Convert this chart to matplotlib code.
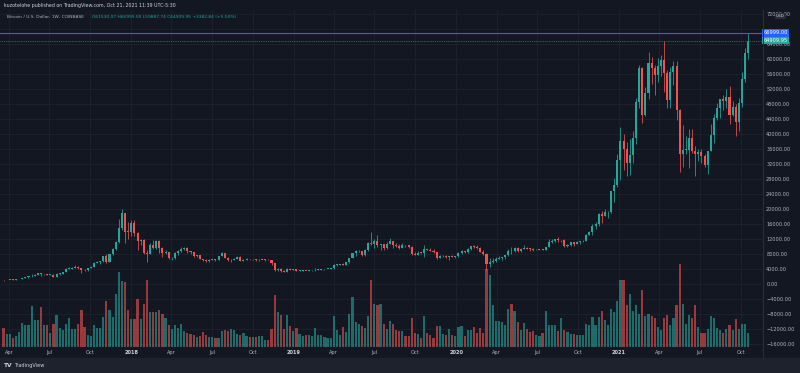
import numpy as np
import pandas as pd
import matplotlib
matplotlib.use('Agg')
import matplotlib.pyplot as plt
import matplotlib.dates as mdates
from matplotlib.lines import Line2D
from matplotlib.patches import Rectangle

# weekly BTC/USD candles (Coinbase), first week starts 2017-03-20
first_week = '2017-03-20'
first_open = 1020

close_2017 = [965, 1090, 1180, 1170, 1230, 1350, 1550, 1770, 2050, 2200, 2520, 2950, 2550, 2600, 2500, 2500, 1930,
              2750, 2750, 3250, 4100, 4100, 4350, 4600, 4250, 3700, 3650, 4380, 4600, 5700, 6000, 6150, 7400, 5950,
              8050, 9300, 11300, 15000, 19000, 13900, 13850]
high_2017 = [1120, 1100, 1200, 1220, 1270, 1360, 1600, 1850, 2100, 2770, 2600, 3000, 3000, 2770, 2600, 2650, 2550,
             2880, 2830, 3300, 4200, 4490, 4450, 4980, 4700, 4300, 4120, 4400, 4800, 5860, 6200, 6200, 7500, 7900,
             8100, 9600, 11400, 17300, 19900, 19000, 16500]
low_2017 = [930, 950, 1060, 1120, 1150, 1220, 1330, 1550, 1700, 1850, 2180, 2450, 2100, 2300, 2380, 2350, 1830,
            1930, 2500, 2650, 3200, 3950, 4000, 4300, 3950, 2970, 3500, 3600, 4200, 4600, 5600, 5300, 6000, 5500,
            5800, 7800, 9000, 11000, 14500, 11000, 12000]

close_2018 = [16200, 13600, 11600, 11800, 8200, 8100, 10400, 9600, 11500, 9500, 8200, 8450, 6850, 7000, 8350, 8900,
              9400, 9650, 8700, 8500, 7350, 7700, 6780, 6450, 6150, 6350, 6750, 6350, 7400, 8200, 7050, 6300, 6500,
              6700, 7300, 6250, 6500, 6700, 6600, 6600, 6300, 6400, 6450, 6450, 6350, 5600, 3800, 4100, 3600, 3250,
              3950, 3850]
high_2018 = [17200, 17100, 14000, 12000, 12000, 9000, 10900, 11800, 11700, 11700, 9900, 9200, 8500, 7100, 8450, 9000,
             9750, 9990, 9900, 8800, 8500, 7800, 7800, 6800, 6800, 6700, 6800, 6800, 7550, 8500, 8300, 7200, 6600,
             6950, 7400, 7400, 6600, 6900, 6800, 6700, 6650, 6600, 6500, 6550, 6550, 6400, 5700, 4300, 4150, 3650,
             4200, 4250]
low_2018 = [12800, 12900, 9000, 10300, 7900, 6000, 8000, 9300, 9400, 8400, 7300, 7900, 6600, 6500, 6800, 7800,
            8600, 9000, 8350, 7900, 7100, 7100, 6600, 6100, 5750, 5800, 6300, 6100, 6300, 7350, 6900, 6100, 5900,
            6300, 6700, 6200, 6150, 6300, 6450, 6500, 6200, 6200, 6350, 6250, 6300, 5200, 3500, 3500, 3300, 3150,
            3250, 3700]

close_2019 = [4050, 3550, 3550, 3550, 3450, 3650, 3650, 3850, 3850, 3950, 4000, 4000, 4150, 5050, 5050, 5300, 5200,
              5750, 6950, 8200, 8750, 8750, 7650, 8950, 10850, 10800, 11450, 10300, 10550, 9500, 10800, 11350, 10300,
              10150, 9600, 10400, 10350, 10000, 8050, 7850, 8300, 8250, 9250, 9200, 8800, 8500, 7050, 7400, 7500,
              7100, 7500, 7250]
high_2019 = [4100, 4100, 3700, 3650, 3600, 3700, 3700, 4200, 3900, 3950, 4050, 4100, 4200, 5300, 5450, 5400, 5650,
             5800, 7000, 8300, 8950, 9100, 8800, 9350, 11250, 13880, 12000, 13200, 10800, 10650, 11100, 12300, 11500,
             10950, 10650, 10900, 10450, 10400, 10050, 8450, 8800, 8400, 10500, 9400, 9500, 9300, 8550, 7850, 7800,
             7650, 7550, 7650]
low_2019 = [3750, 3500, 3450, 3450, 3350, 3400, 3550, 3600, 3700, 3700, 3850, 3900, 3950, 4100, 4900, 5000, 5100,
            5150, 5700, 6900, 7600, 8450, 7500, 7500, 8900, 10300, 9700, 9900, 9100, 9200, 9400, 10700, 9500, 9800,
            9400, 9600, 9850, 9600, 7700, 7750, 7800, 7950, 7300, 8950, 8700, 8250, 6550, 6850, 7200, 7050, 6430,
            7100]

close_2020 = [7350, 8200, 8700, 8600, 9350, 10150, 9900, 9650, 8550, 8050, 5350, 5800, 6250, 6800, 6900, 7100, 7700,
              8900, 8750, 9700, 8700, 9450, 9700, 9350, 9300, 9000, 9050, 9250, 9150, 9950, 11100, 11600, 11900,
              11650, 11700, 10250, 10350, 11100, 10750, 11300, 11400, 11500, 13100, 13800, 15500, 16000, 18700,
              18200, 19150, 19250, 24700, 26450, 33000]
high_2020 = [7550, 8450, 9000, 8900, 9550, 10200, 10500, 10300, 9950, 9200, 8200, 6950, 6950, 7300, 7450, 7200, 7800,
             9450, 10000, 9950, 9850, 9500, 10400, 9950, 9600, 9700, 9450, 9450, 9350, 9950, 12100, 11900, 12100,
             12450, 11800, 12100, 10600, 11150, 11150, 11600, 11500, 11700, 13300, 14100, 15950, 16500, 18900,
             19500, 19900, 19450, 24800, 28400, 34800]
low_2020 = [6900, 7300, 8100, 8250, 8300, 9150, 9700, 9450, 8500, 7650, 3850, 4450, 5700, 5850, 6600, 6500, 6750,
            7600, 8100, 8600, 8650, 8650, 9250, 9250, 8900, 8850, 8950, 9000, 9050, 9150, 9900, 10950, 11150, 11100,
            11150, 9900, 9850, 10250, 10150, 10650, 10550, 11200, 11400, 12950, 13200, 14800, 15600, 16300, 18150,
            17600, 19000, 21800, 25900]

close_2021 = [38200, 36000, 32300, 34300, 38900, 48600, 57500, 45200, 51000, 59000, 57500, 55800, 58200, 59800,
              56200, 49100, 56600, 58200, 46400, 34800, 35700, 35800, 39000, 35600, 34700, 35300, 34250, 31800,
              35400, 39800, 44400, 47050, 49300, 48900, 49900, 45000, 47300, 43200, 48200, 54700, 61530.07, 64909.95]
high_2021 = [41950, 40100, 37850, 38550, 40900, 49700, 58350, 58000, 52600, 61800, 60650, 58400, 60200, 61200,
             64900, 57000, 57950, 59500, 59600, 46700, 42450, 39500, 41300, 41300, 36700, 36100, 35950, 34800,
             35500, 42600, 45300, 48150, 49400, 50500, 51900, 52900, 48850, 48000, 49500, 56600, 62900, 66999.00]
low_2021 = [27700, 30400, 28800, 29200, 32300, 37400, 47000, 43000, 44900, 49300, 53300, 50400, 54000, 55400,
            51200, 47000, 46900, 53000, 43800, 30000, 31100, 34800, 31000, 34900, 28800, 32700, 32200, 31100,
            29300, 35400, 37700, 43800, 44400, 46500, 47000, 42800, 44700, 39600, 40800, 47100, 53900, 59887.74]

# weekly volume (thousand BTC)
volume_2017_18 = [19, 13, 13, 9, 11, 15, 24, 22, 22, 41, 27, 27, 40, 22, 22, 14, 23, 32, 19, 17, 23, 29, 18, 18,
                  23, 37, 20, 12, 11, 22, 19, 19, 30, 46, 37, 30, 53, 75, 66, 65, 37, 28, 28, 48, 28, 43, 67, 35,
                  35, 35, 37, 33, 29, 22, 18, 22, 19, 23, 16, 14, 13, 12, 10, 11, 15, 12, 10, 10, 9, 9, 16, 17, 16,
                  18, 17, 13, 12, 14, 11, 10, 10, 10, 11, 11, 7, 7]
volume_2018_20 = [18, 52, 35, 32, 18, 32, 21, 16, 19, 13, 11, 12, 12, 11, 19, 12, 12, 10, 9, 9, 31, 17, 12, 20, 15,
                  33, 50, 25, 23, 21, 19, 31, 67, 43, 42, 43, 23, 18, 26, 23, 17, 16, 16, 11, 11, 29, 14, 13, 9, 31,
                  14, 12, 9, 21, 21, 13, 12, 18, 12, 11, 20, 21, 11, 17, 17, 20, 14, 19, 14, 78, 72, 42, 26, 26, 25,
                  22, 38, 43, 36, 25, 17, 24, 18]
volume_2020_21 = [15, 16, 12, 11, 14, 36, 22, 22, 22, 16, 29, 17, 15, 13, 13, 12, 12, 12, 23, 22, 30, 22, 30, 36,
                  27, 22, 38, 35, 46, 67, 67, 42, 53, 36, 42, 33, 57, 31, 33, 31, 29, 20, 17, 29, 32, 22, 29, 42, 83,
                  43, 23, 32, 29, 42, 20, 14, 14, 18, 31, 29, 19, 17, 14, 18, 22, 17, 28, 18, 23, 23, 14]

price_ticks = list(range(-16000, 72001, 4000))
hidden_ticks = [68000]  # sits under the last-high label
time_ticks = ['2017-04-01', '2017-07-01', '2017-10-01', '2018-01-01', '2018-04-01', '2018-07-01', '2018-10-01',
              '2019-01-01', '2019-04-01', '2019-07-01', '2019-10-01', '2020-01-01', '2020-04-01', '2020-07-01',
              '2020-10-01', '2021-01-01', '2021-04-01', '2021-07-01', '2021-10-01']
time_labels = ['Apr', 'Jul', 'Oct', '2018', 'Apr', 'Jul', 'Oct', '2019', 'Apr', 'Jul', 'Oct', '2020', 'Apr', 'Jul',
               'Oct', '2021', 'Apr', 'Jul', 'Oct']

BG = '#131722'
UP, DOWN = '#26a69a', '#ef5350'
TXT = '#b2b5be'
FS = 3.6

closes = np.array(close_2017 + close_2018 + close_2019 + close_2020 + close_2021)
highs = np.array(high_2017 + high_2018 + high_2019 + high_2020 + high_2021)
lows = np.array(low_2017 + low_2018 + low_2019 + low_2020 + low_2021)
opens = np.concatenate([[first_open], closes[:-1]])
volume = np.array(volume_2017_18 + volume_2018_20 + volume_2020_21)
weeks = mdates.date2num(pd.date_range(first_week, periods=len(closes), freq='7D'))

up = closes >= opens
cols = np.where(up, UP, DOWN)

W, H = 800, 373
fig = plt.figure(figsize=(W / 100, H / 100), dpi=100, facecolor=BG)
fx = lambda px: px / W
fy = lambda py: 1 - py / H

# bottom strip with logo
fig.add_artist(Rectangle((0, 0), 1, 15 / H, transform=fig.transFigure, color='#1e222d', zorder=0))
fig.text(fx(4), fy(365.5), 'TV', fontsize=4.2, color='#d1d4dc', weight='bold', va='center')
fig.text(fx(14), fy(365.5), 'TradingView', fontsize=FS, color='#d1d4dc', va='center')

ax = fig.add_axes([0, fy(347), 762 / W, 337 / H])
ax.set_facecolor(BG)
ax.set_xlim(mdates.date2num(pd.Timestamp('2017-03-12')), mdates.date2num(pd.Timestamp('2021-11-18')))
ax.set_ylim(-16800, 73070)

ax.set_axisbelow(True)
ax.grid(True, color='#1e2230', lw=0.6)

# volume drawn in the same pane, scaled on its own axis (top of pane = 337k)
vol_top = 337
ax.bar(weeks, volume / vol_top, width=4.9, bottom=0, color=cols, alpha=0.6,
       transform=ax.get_xaxis_transform(), zorder=1, lw=0)

# candles
body = np.maximum(np.abs(closes - opens), 180)
ax.vlines(weeks, lows, highs, colors=cols, lw=0.55, zorder=2)
ax.bar(weeks, body, bottom=np.minimum(opens, closes), width=4.6, color=cols, zorder=3, lw=0)

# last price / high lines
ax.axhline(66999.00, color='#2962ff', lw=0.8, zorder=4)
ax.axhline(64909.95, color='#4f6f70', lw=0.6, ls=(0, (1, 1.2)), zorder=4)

ax.yaxis.tick_right()
ax.set_yticks(price_ticks)
ax.set_yticklabels(['' if v in hidden_ticks else f'{v:.2f}'.replace('-', '\u2212') for v in price_ticks])
ax.tick_params(axis='y', length=0, pad=3, labelsize=FS, labelcolor=TXT)

ax.set_xticks(mdates.date2num(pd.to_datetime(time_ticks)))
ax.set_xticklabels(time_labels)
ax.tick_params(axis='x', length=0, pad=2.5, labelsize=FS, labelcolor=TXT)
for lab in ax.get_xticklabels():
    if lab.get_text().isdigit():
        lab.set_fontweight('bold')
        lab.set_color('#d1d4dc')

for s in ax.spines.values():
    s.set_visible(False)

# price scale border
fig.add_artist(Line2D([fx(762.5)] * 2, [fy(358), fy(10)], transform=fig.transFigure, color='#2a2e39', lw=0.8))

ytr = ax.get_yaxis_transform()
ax.text(1.002, 66999.00, '66999.00', transform=ytr, fontsize=FS, color='white', va='center', ha='left',
        clip_on=False, zorder=6, bbox=dict(boxstyle='square,pad=0.25', fc='#2962ff', ec='none'))
ax.text(1.002, 64909.95, '64909.95', transform=ytr, fontsize=FS, color='white', va='center', ha='left',
        clip_on=False, zorder=6, bbox=dict(boxstyle='square,pad=0.25', fc='#26a69a', ec='none'))
fig.text(fx(776), fy(16), 'USD', fontsize=3.0, color='#d1d4dc', va='center', zorder=7,
         bbox=dict(boxstyle='round,pad=0.25', fc='#2a2e39', ec='none'))

# header texts
fig.text(fx(4), fy(5), 'kuzotelohe published on TradingView.com, Oct 21, 2021 11:39 UTC-5:30',
         fontsize=3.4, color='#d1d4dc', va='center')
fig.text(fx(7), fy(17), 'Bitcoin / U.S. Dollar, 1W, COINBASE', fontsize=3.2, color=TXT, va='center')
fig.text(fx(92), fy(17), 'O61530.07 H66999.00 L59887.74 C64909.95 +3382.84 (+5.50%)',
         fontsize=3.2, color=UP, va='center')

fig.savefig('out.png', dpi=100, facecolor=BG)
